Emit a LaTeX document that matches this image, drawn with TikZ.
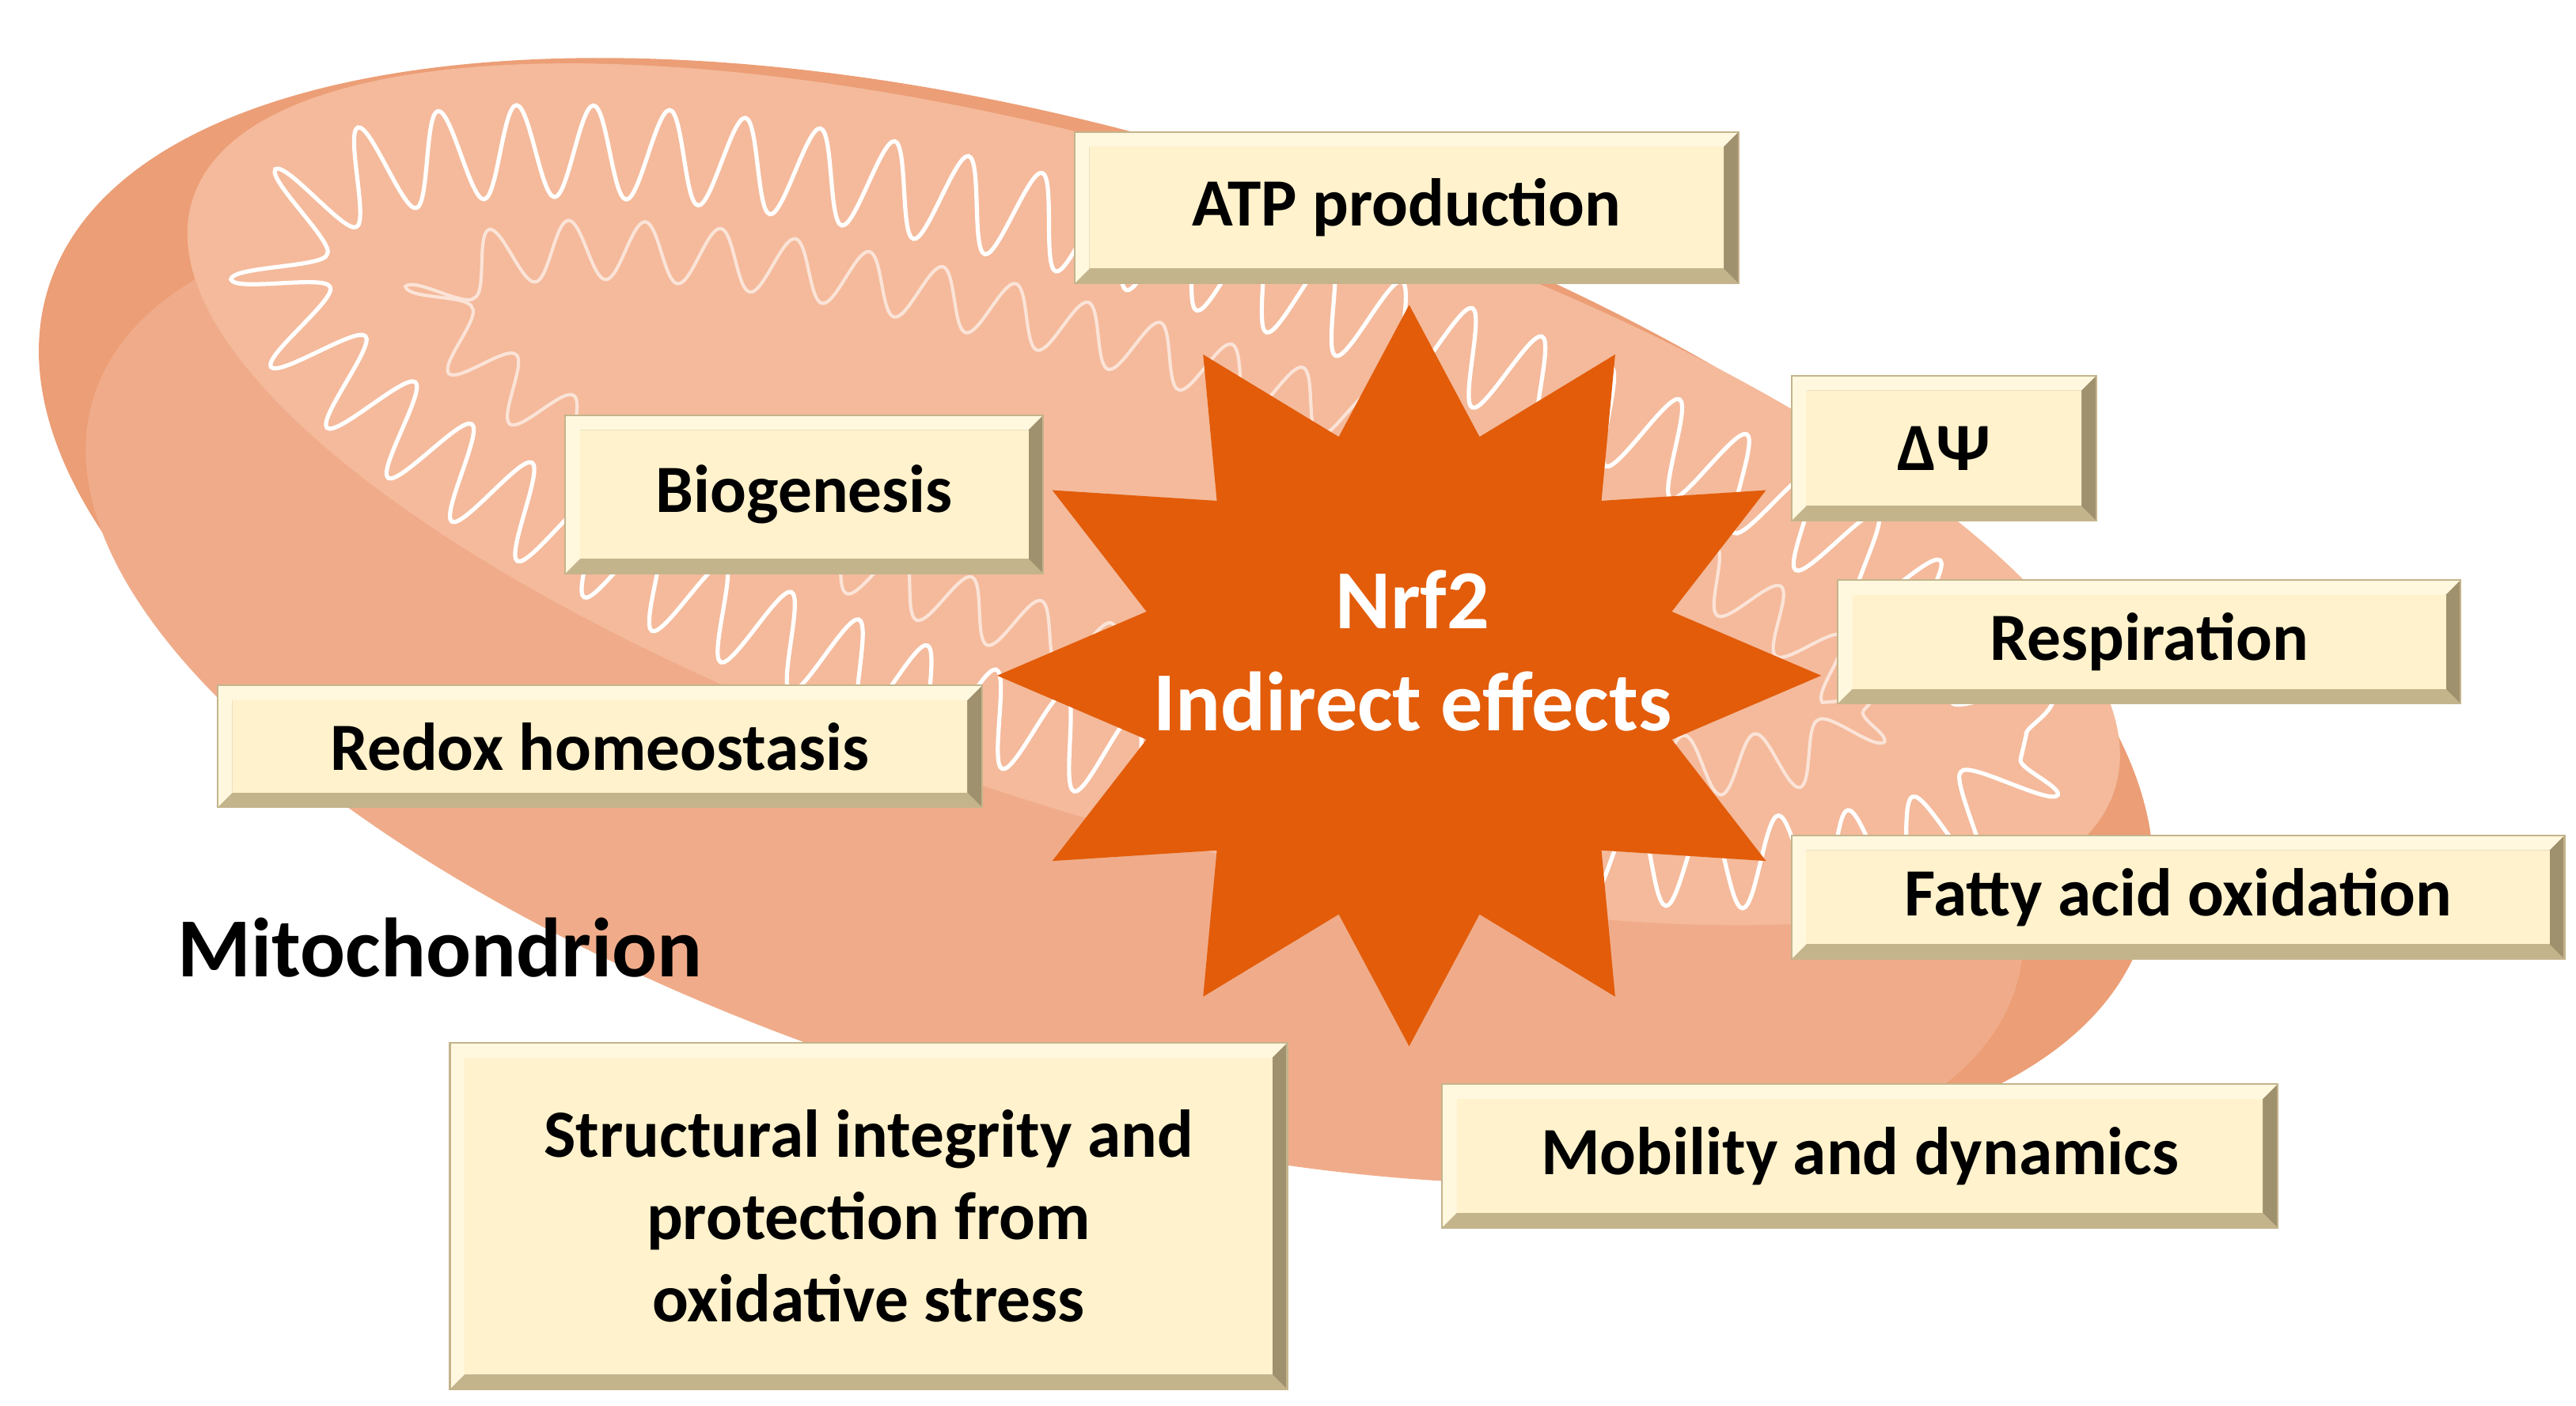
\documentclass[tikz,border=0pt]{standalone}
\usepackage{fontspec}
\setmainfont{Carlito}
\usetikzlibrary{decorations.pathmorphing}
\definecolor{boxfill}{RGB}{255,242,204}
\definecolor{bevlight}{RGB}{255,248,222}
\definecolor{bevdark}{RGB}{196,180,140}
\definecolor{bevdark2}{RGB}{160,145,110}
\definecolor{mito}{RGB}{236,158,118}
\definecolor{mitoin}{RGB}{244,186,155}
\definecolor{mitoface}{RGB}{240,172,138}
\definecolor{starc}{RGB}{226,92,10}
\tikzset{lbl/.style={font=\bfseries\fontsize{41}{50}\selectfont,align=center,text=black}}
\newcommand{\bevbox}[6]{%
 \fill[bevdark] (#2,#3) rectangle (#4,#5);
 \fill[bevlight] (#2,#3) -- (#4,#3) -- ({#4-9},{#3+9}) -- ({#2+9},{#3+9}) -- ({#2+9},{#5-9}) -- (#2,#5) -- cycle;
 \fill[bevdark2] (#4,#3) -- (#4,#5) -- ({#4-9},{#5-9}) -- ({#4-9},{#3+9}) -- cycle;
 \fill[boxfill] ({#2+9},{#3+9}) rectangle ({#4-9},{#5-9});
 \draw[bevdark,line width=1] (#2,#3) rectangle (#4,#5);
 \node[lbl] (#1) at ({(#2+#4)/2},{(#3+#5)/2}) {#6};}
\begin{document}
\begin{tikzpicture}[x=1pt,y=-1pt]
\useasboundingbox (0,0) rectangle (1563,853);
\fill[white] (0,0) rectangle (1563,853);
% mitochondrion
\fill[mito] (665,370) ellipse [x radius=665, y radius=285, rotate=-17];
\fill[mitoface] (640,420) ellipse [x radius=610, y radius=250, rotate=-17];
\fill[mitoin] (700,300) ellipse [x radius=610, y radius=200, rotate=-17];
\draw[white,line width=2.5,decorate,decoration={snake,amplitude=28,segment length=45}]
  (700,300) ellipse [x radius=550, y radius=150, rotate=-17];
\draw[white!60!mitoin,line width=2,decorate,decoration={snake,amplitude=18,segment length=45}]
  (700,300) ellipse [x radius=450, y radius=95, rotate=-17];
% star
\path[fill=starc,shift={(855,410)}]
  (90:250 and 225) -- (105:165 and 150) -- (120:250 and 225) -- (135:165 and 150)
  -- (150:250 and 225) -- (165:165 and 150) -- (180:250 and 225) -- (195:165 and 150)
  -- (210:250 and 225) -- (225:165 and 150) -- (240:250 and 225) -- (255:165 and 150)
  -- (270:250 and 225) -- (285:165 and 150) -- (300:250 and 225) -- (315:165 and 150)
  -- (330:250 and 225) -- (345:165 and 150) -- (0:250 and 225) -- (15:165 and 150)
  -- (30:250 and 225) -- (45:165 and 150) -- (60:250 and 225) -- (75:165 and 150) -- cycle;
\node[font=\bfseries\fontsize{51}{62}\selectfont,text=white,align=center] (nrf) at (857,395) {Nrf2\\Indirect effects};
\node[font=\bfseries\fontsize{51}{60}\selectfont,text=black] (mt) at (267,575) {Mitochondrion};
% boxes
\bevbox{atp}{652}{80}{1055}{172}{ATP production}
\bevbox{bio}{343}{252}{633}{348}{Biogenesis}
\bevbox{dpsi}{1087}{228}{1272}{316}{ΔΨ}
\bevbox{resp}{1115}{352}{1493}{427}{Respiration}
\bevbox{redox}{132}{416}{596}{490}{Redox homeostasis}
\bevbox{fat}{1087}{507}{1556}{582}{Fatty acid oxidation}
\bevbox{mob}{875}{658}{1382}{745}{Mobility and dynamics}
\bevbox{struct}{273}{633}{781}{843}{Structural integrity and\\protection from\\oxidative stress}
\end{tikzpicture}
\end{document}
